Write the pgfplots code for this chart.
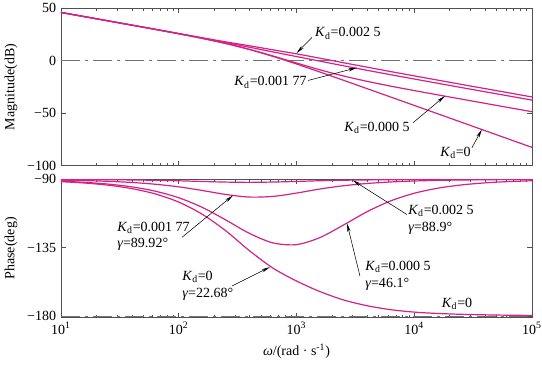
\documentclass[border=0pt]{standalone}
\usepackage{fontspec}
\setmainfont{Liberation Serif}
\usepackage{pgfplots}
\usepackage{pgfplotstable}
\pgfplotsset{compat=1.18}
\usetikzlibrary{arrows.meta}
\definecolor{cmag}{RGB}{212,34,134}
\definecolor{frm}{RGB}{80,80,80}

\pgfplotstableread{
w       m0      m5      m177    m25     p0       p5       p177     p25
10      46.02   46.02   46.02   46.02   -91.54   -91.25   -90.52   -90.10
15.85   42.01   42.01   42.02   42.02   -92.43   -91.98   -90.83   -90.16
25.12   38.00   38.00   38.01   38.02   -93.85   -93.13   -91.31   -90.26
39.81   33.97   33.97   33.99   34.01   -96.09   -94.95   -92.06   -90.41
63.10   29.90   29.90   29.95   29.98   -99.60   -97.79   -93.23   -90.64
100     25.72   25.73   25.85   25.96   -105.00  -102.14  -94.96   -90.96
158.5   21.30   21.33   21.63   21.91   -113.02  -108.49  -97.35   -91.41
251.2   16.40   16.47   17.30   18.00   -123.95  -116.79  -99.98   -91.82
398.1   10.72   10.89   12.90   14.30   -137.00  -125.60  -101.68  -92.00
631.0   4.15    4.56    8.40    10.40   -148.50  -131.89  -101.24  -91.78
1000    -3.11   -2.14   4.00    6.60    -157.00  -133.03  -99.06   -91.40
1585    -10.78  -8.66   -0.40   2.40    -164.00  -128.35  -96.37   -90.92
2512    -18.64  -14.53  -4.80   -1.90   -169.50  -120.08  -94.23   -90.60
3981    -26.58  -19.62  -9.10   -6.10   -173.30  -111.32  -92.73   -90.39
6310    -34.56  -24.17  -13.30  -10.30  -175.90  -104.21  -91.74   -90.25
10000   -42.55  -28.40  -17.40  -14.40  -177.50  -99.17   -91.09   -90.15
15849   -50.55  -32.50  -21.45  -18.45  -178.40  -95.84   -90.69   -90.10
25119   -58.54  -36.51  -25.50  -22.50  -178.95  -93.70   -90.44   -90.06
39811   -66.54  -40.54  -29.50  -26.50  -179.30  -92.34   -90.27   -90.04
63096   -74.54  -44.56  -33.50  -30.50  -179.55  -91.48   -90.17   -90.02
100000  -82.54  -48.56  -37.50  -34.50  -179.70  -90.94   -90.11   -90.02
}\bode

\newcommand{\Kd}{\textit{K}\textsubscript{d}}

\tikzset{
  ann/.style={-{Stealth[length=6.5pt,width=2.4pt]}, line width=0.4pt, black},
  zl/.style={frm!80, line width=0.5pt, dash pattern=on 14pt off 4pt on 2pt off 4pt, sharp plot},
  cv/.style={cmag, line width=0.9pt, smooth, mark=none},
}

\begin{document}
\fontsize{10.5}{12.6}\selectfont
\begin{tikzpicture}[font=\fontsize{10.5}{12.6}\selectfont]
\begin{axis}[name=mag, scale only axis, width=353pt, height=118pt,
  xmode=log, xmin=10, xmax=100000,
  xtick={10,100,1000,10000,100000},
  axis line style={frm, line width=0.6pt},
  every tick/.style={frm, line width=0.5pt},
  major tick length=3.5pt, minor tick length=2pt,
  tick align=inside,
  ymin=-100, ymax=50, ytick={-100,-50,0,50},
  yticklabels={−100,−50,0,50},
  xticklabels={},
  ylabel={Magnitude(dB)}]
\addplot[zl] coordinates {(10,0) (100000,0)};
\addplot[cv] table[x=w,y=m0]{\bode};
\addplot[cv] table[x=w,y=m5]{\bode};
\addplot[cv] table[x=w,y=m177]{\bode};
\addplot[cv] table[x=w,y=m25]{\bode};
\node[anchor=west, inner sep=0pt] at (axis cs:1435,26.1) {\Kd=0.002 5};
\draw[ann] (axis cs:1355,22.3) -- (axis cs:1000,7.2);
\node[anchor=east, inner sep=0pt] at (axis cs:1228,-20.7) {\Kd=0.001 77};
\draw[ann] (axis cs:1253,-18.8) -- (axis cs:3266,-6.6);
\node[anchor=east, inner sep=0pt] at (axis cs:9204,-63.8) {\Kd=0.000 5};
\draw[ann] (axis cs:9750,-59.1) -- (axis cs:18240,-33.5);
\node[anchor=east, inner sep=0pt] at (axis cs:30340,-87.7) {\Kd=0};
\draw[ann] (axis cs:30900,-82.9) -- (axis cs:37580,-65.3);
\end{axis}
\begin{axis}[name=ph, at={(mag.south west)}, anchor=north west, yshift=-10.2pt,
  scale only axis, width=353pt, height=103.5pt,
  xmode=log, xmin=10, xmax=100000,
  xtick={10,100,1000,10000,100000},
  axis line style={frm, line width=0.6pt},
  every tick/.style={frm, line width=0.5pt},
  major tick length=3.5pt, minor tick length=2pt,
  tick align=inside,
  ymin=-181, ymax=-90, ytick={-180,-135,-90},
  yticklabels={−180,−135,−90},
  xticklabels={10\textsuperscript{1},10\textsuperscript{2},10\textsuperscript{3},10\textsuperscript{4},10\textsuperscript{5}},
  ylabel={Phase(deg)},
  xlabel={\textit{ω}/(rad · s\textsuperscript{-1})}]
\addplot[zl] coordinates {(10,-180) (100000,-180)};
\addplot[cv] table[x=w,y=p0]{\bode};
\addplot[cv] table[x=w,y=p5]{\bode};
\addplot[cv] table[x=w,y=p177]{\bode};
\addplot[cv] table[x=w,y=p25]{\bode};
\node[anchor=north west, inner sep=0pt, align=left] at (axis cs:29.9,-117.8) {\Kd=0.001 77\\\textit{γ}=89.92°};
\draw[ann] (axis cs:106.7,-128.2) -- (axis cs:289,-100.6);
\node[anchor=north west, inner sep=0pt, align=left] at (axis cs:106.7,-150.5) {\Kd=0\\\textit{γ}=22.68°};
\draw[ann] (axis cs:283,-160.3) -- (axis cs:596,-147.8);
\node[anchor=north west, inner sep=0pt, align=left] at (axis cs:8851,-106.7) {\Kd=0.002 5\\\textit{γ}=88.9°};
\draw[ann] (axis cs:8670,-113.2) -- (axis cs:3000,-90.6);
\node[anchor=north west, inner sep=0pt, align=left] at (axis cs:3819,-143.9) {\Kd=0.000 5\\\textit{γ}=46.1°};
\draw[ann] (axis cs:3459,-153.7) -- (axis cs:2686,-119);
\node[inner sep=0pt] at (axis cs:23070,-172) {\Kd=0};
\end{axis}
\pgfresetboundingbox
\path[use as bounding box] ([xshift=-45.7pt,yshift=6.2pt]mag.north west) rectangle ([xshift=7.5pt,yshift=-35pt]ph.south east);
\end{tikzpicture}
\end{document}
